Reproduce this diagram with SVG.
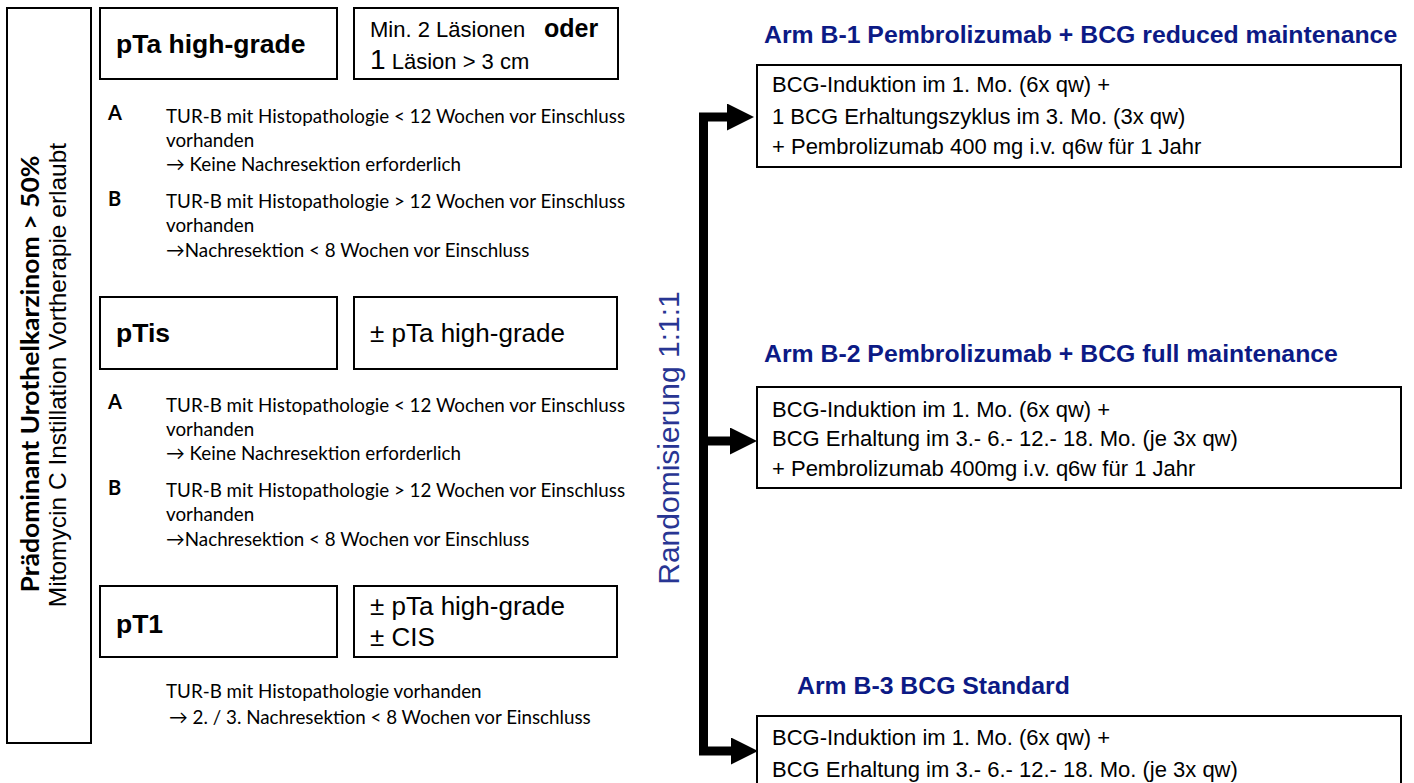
<svg xmlns="http://www.w3.org/2000/svg" width="1414" height="783" viewBox="0 0 1414 783">
<defs>
<style>
.box{fill:#fff;stroke:#000;stroke-width:2}
.hb{font-family:"Liberation Sans",Arial,sans-serif;font-weight:bold;font-size:26.5px;fill:#000}
.hr{font-family:"Liberation Sans",Arial,sans-serif;font-size:26px;fill:#000}
.cal{font-family:Lato,"Open Sans",sans-serif;font-size:18.8px;fill:#000}
.calb{font-family:Lato,"Open Sans",sans-serif;font-weight:bold;font-size:20px;fill:#000}
.arm{font-family:"Liberation Sans",Arial,sans-serif;font-weight:bold;font-size:24.8px;fill:#0c1a85}
.body{font-family:"Liberation Sans",Arial,sans-serif;font-size:22px;fill:#000}
.conn{fill:none;stroke:#000;stroke-width:9;stroke-linejoin:miter;stroke-linecap:butt}
</style>
<marker id="ah" markerUnits="userSpaceOnUse" markerWidth="27" markerHeight="27" viewBox="0 0 27 27" refX="0" refY="13.5" orient="auto">
<path d="M0 0 L27 13.5 L0 27 Z" fill="#000"/>
</marker>
</defs>
<rect width="1414" height="783" fill="#fff"/>

<g id="population">
<rect class="box" x="7" y="8" width="84" height="735"/>
<text transform="translate(39,374) rotate(-90)" text-anchor="middle" font-family="Lato,'Open Sans',sans-serif" font-weight="bold" font-size="24.5" textLength="437" lengthAdjust="spacingAndGlyphs" fill="#000">Prädominant Urothelkarzinom &gt; 50%</text>
<text transform="translate(66,375) rotate(-90)" text-anchor="middle" font-family="'Liberation Sans',Arial,sans-serif" font-size="24.5" fill="#000">Mitomycin C Instillation Vortherapie erlaubt</text>
</g>

<g id="pta">
<rect class="box" x="100" y="8" width="237" height="71"/>
<text class="hb" x="116" y="53">pTa high-grade</text>
</g>
<g id="pta-crit">
<rect class="box" x="354" y="8" width="264" height="71"/>
<text class="body" x="370" y="37">Min. 2 Läsionen<tspan x="544" font-weight="bold" font-size="25">oder</tspan></text>
<text class="body" x="370" y="69"><tspan font-size="28">1</tspan> Läsion &gt; 3 cm</text>
</g>
<g id="pta-notes">
<text class="calb" x="108" y="120">A</text>
<text class="cal" x="166" y="123">TUR-B mit Histopathologie &lt; 12 Wochen vor Einschluss</text>
<text class="cal" x="166" y="147">vorhanden</text>
<text class="cal" x="166" y="171">→ Keine Nachresektion erforderlich</text>
<text class="calb" x="108" y="206">B</text>
<text class="cal" x="166" y="208">TUR-B mit Histopathologie &gt; 12 Wochen vor Einschluss</text>
<text class="cal" x="166" y="232">vorhanden</text>
<text class="cal" x="166" y="257">→Nachresektion &lt; 8 Wochen vor Einschluss</text>
</g>

<g id="ptis">
<rect class="box" x="100" y="297" width="237" height="72"/>
<text class="hb" x="116" y="342">pTis</text>
</g>
<g id="ptis-crit">
<rect class="box" x="354" y="297" width="263" height="72"/>
<text class="hr" x="370" y="342">± pTa high-grade</text>
</g>
<g id="ptis-notes">
<text class="calb" x="108" y="409">A</text>
<text class="cal" x="166" y="412">TUR-B mit Histopathologie &lt; 12 Wochen vor Einschluss</text>
<text class="cal" x="166" y="436">vorhanden</text>
<text class="cal" x="166" y="460">→ Keine Nachresektion erforderlich</text>
<text class="calb" x="108" y="495">B</text>
<text class="cal" x="166" y="497">TUR-B mit Histopathologie &gt; 12 Wochen vor Einschluss</text>
<text class="cal" x="166" y="521">vorhanden</text>
<text class="cal" x="166" y="546">→Nachresektion &lt; 8 Wochen vor Einschluss</text>
</g>

<g id="pt1">
<rect class="box" x="100" y="586" width="237" height="71"/>
<text class="hb" x="116" y="633">pT1</text>
</g>
<g id="pt1-crit">
<rect class="box" x="354" y="586" width="263" height="71"/>
<text class="hr" x="370" y="615">± pTa high-grade</text>
<text class="hr" x="370" y="646">± CIS</text>
</g>
<g id="pt1-notes">
<text class="cal" x="166" y="698">TUR-B mit Histopathologie vorhanden</text>
<text class="cal" x="169" y="724">→ 2. / 3. Nachresektion &lt; 8 Wochen vor Einschluss</text>
</g>

<g id="randomisierung">
<text transform="translate(679,438) rotate(-90)" text-anchor="middle" font-family="'Liberation Sans',Arial,sans-serif" font-size="30" fill="#283593">Randomisierung 1:1:1</text>
</g>

<g id="connectors">
<path class="conn" d="M703.5 441 V117 H727" marker-end="url(#ah)"/>
<path class="conn" d="M703.5 441 V751 H731" marker-end="url(#ah)"/>
<path class="conn" d="M708 441 H730" marker-end="url(#ah)"/>
</g>

<g id="arm-b1">
<text class="arm" x="764" y="43">Arm B-1 Pembrolizumab + BCG reduced maintenance</text>
<rect class="box" x="757" y="65" width="644" height="102"/>
<text class="body" x="772" y="92">BCG-Induktion im 1. Mo. (6x qw) +</text>
<text class="body" x="772" y="124">1 BCG Erhaltungszyklus im 3. Mo. (3x qw)</text>
<text class="body" x="772" y="154">+ Pembrolizumab 400 mg i.v. q6w für 1 Jahr</text>
</g>

<g id="arm-b2">
<text class="arm" x="764" y="362">Arm B-2 Pembrolizumab + BCG full maintenance</text>
<rect class="box" x="757" y="387" width="644" height="101"/>
<text class="body" x="772" y="417">BCG-Induktion im 1. Mo. (6x qw) +</text>
<text class="body" x="772" y="446">BCG Erhaltung im 3.- 6.- 12.- 18. Mo. (je 3x qw)</text>
<text class="body" x="772" y="476">+ Pembrolizumab 400mg i.v. q6w für 1 Jahr</text>
</g>

<g id="arm-b3">
<text class="arm" x="797" y="694">Arm B-3 BCG Standard</text>
<rect class="box" x="757" y="716" width="644" height="80"/>
<text class="body" x="772" y="745">BCG-Induktion im 1. Mo. (6x qw) +</text>
<text class="body" x="772" y="777">BCG Erhaltung im 3.- 6.- 12.- 18. Mo. (je 3x qw)</text>
</g>
</svg>
